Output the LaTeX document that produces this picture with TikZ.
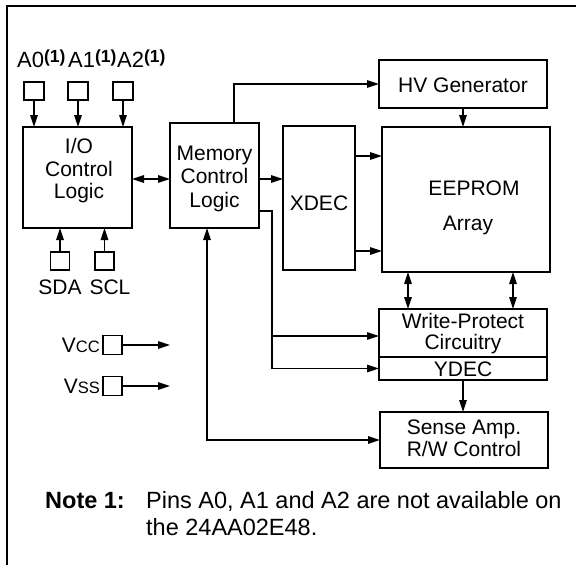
\documentclass[tikz,border=0pt]{standalone}
\usepackage{fontspec}
\setmainfont{Liberation Sans}
\usetikzlibrary{arrows.meta,calc}
\newcommand{\supn}{\raisebox{5pt}{\fontsize{17.5}{17.5}\selectfont\bfseries(1)}}
\newcommand{\smc}[1]{{\fontsize{16.5}{16.5}\selectfont #1}}
\begin{document}
\begin{tikzpicture}[x=1pt,y=-1pt,
  blk/.style={draw,line width=1.6pt,inner sep=0pt,outer sep=0pt},
  pin/.style={draw,line width=1.6pt,minimum width=19pt,minimum height=18pt,inner sep=0pt,outer sep=0pt},
  txt/.style={font=\fontsize{21}{22.5}\selectfont,align=center,inner sep=0pt},
  con/.style={line width=1.6pt},
  arr/.style={con,-{Triangle[length=12pt,width=7.5pt]}},
  darr/.style={con,{Triangle[length=12pt,width=7.5pt]}-{Triangle[length=12pt,width=7.5pt]}}]
\useasboundingbox (0,0) rectangle (576,565);
% frame
\draw[line width=2pt] (6.5,600) -- (6.5,5.5) -- (600,5.5);

% blocks
\node[blk,minimum width=109pt,minimum height=101pt] (io) at (77.5,177.5) {};
\node[txt] (iot) at (79,171) {I/O\\Control\\Logic};
\node[blk,minimum width=89pt,minimum height=105pt] (mem) at (214.5,175.5) {};
\node[txt,font=\fontsize{21}{23.5}\selectfont] (memt) at (214.5,178.5) {Memory\\Control\\Logic};
\node[blk,minimum width=72pt,minimum height=144pt] (xdec) at (319,198) {};
\node[txt] (xdect) at (319,203) {XDEC};
\node[blk,minimum width=168pt,minimum height=48pt] (hv) at (463,84) {};
\node[txt] (hvt) at (463,85) {HV Generator};
\node[blk,minimum width=168pt,minimum height=145pt] (ee) at (466,199.5) {};
\node[txt] (eet1) at (474,188) {EEPROM};
\node[txt] (eet2) at (468,225) {Array};
\node[blk,minimum width=168pt,minimum height=48pt] (wp) at (463,333) {};
\node[txt,font=\fontsize{21}{21}\selectfont] (wpt) at (463,333.5) {Write-Protect\\Circuitry};
\node[blk,minimum width=168pt,minimum height=23pt] (ydec) at (463,368.5) {};
\node[txt] (ydect) at (463,369) {YDEC};
\node[blk,minimum width=168pt,minimum height=56pt] (sa) at (464,440) {};
\node[txt,font=\fontsize{21}{22}\selectfont] (sat) at (464,438) {Sense Amp.\\R/W Control};

% pins
\node[pin,minimum width=20pt] (a0) at (34,91) {};
\node[pin,minimum width=20pt] (a1) at (78,91) {};
\node[pin,minimum width=20pt] (a2) at (123,91) {};
\node[txt,anchor=base west,font=\fontsize{22}{22}\selectfont] (a0l) at (17,67) {A0\supn};
\node[txt,anchor=base west,font=\fontsize{22}{22}\selectfont] (a1l) at (68,67) {A1\supn};
\node[txt,anchor=base west,font=\fontsize{22}{22}\selectfont] (a2l) at (117,67) {A2\supn};
\node[pin] (sda) at (60,261) {};
\node[pin] (scl) at (104.5,261) {};
\node[txt] (sdal) at (60,287) {SDA};
\node[txt] (scll) at (110,287) {SCL};
\node[pin,minimum height=19pt] (vcc) at (112.5,345) {};
\node[pin,minimum height=19pt] (vss) at (112.5,386) {};
\node[txt,anchor=east] (vccl) at (100,345) {V\smc{CC}};
\node[txt,anchor=east] (vssl) at (100,386) {V\smc{SS}};
\coordinate (vcce) at (170,345);
\coordinate (vsse) at (170,386);

% note
\node[txt,anchor=base west,font=\fontsize{23.5}{23.5}\selectfont\bfseries] (note) at (45,508.5) {Note 1:};
\node[txt,anchor=base west,font=\fontsize{23.5}{23.5}\selectfont] (n1) at (146,508.5) {Pins A0, A1 and A2 are not available on};
\node[txt,anchor=base west,font=\fontsize{23.5}{23.5}\selectfont] (n2) at (146,535.5) {the 24AA02E48.};

% connectors
\draw[arr] (a0.south) -- (a0.south |- io.north);
\draw[arr] (a1.south) -- (a1.south |- io.north);
\draw[arr] (a2.south) -- (a2.south |- io.north);
\draw[arr] (sda.north) -- (sda.north |- io.south);
\draw[arr] (scl.north) -- (scl.north |- io.south);
\draw[arr] (vcc.east) -- (vcce);
\draw[arr] (vss.east) -- (vsse);

\coordinate (m1) at ([yshift=-3.5pt]mem.east);
\draw[darr] (io.east |- m1) -- (m1 -| mem.west);
\draw[arr] (m1) -- (m1 -| xdec.west);
\draw[arr] ([xshift=19.5pt]mem.north) |- (hv.west);
\draw[arr] (hv.south) -- (hv.south |- ee.north);
\coordinate (x1) at ([yshift=42pt]xdec.east);
\coordinate (x2) at ([yshift=-53pt]xdec.east);
\draw[arr] (x1) -- (x1 -| ee.west);
\draw[arr] (x2) -- (x2 -| ee.west);
\coordinate (m2) at ([yshift=-35.5pt]mem.east);
\coordinate (bx) at ([xshift=13pt]m2);
\coordinate (wpin) at ([yshift=-3pt]wp.west);
\draw[arr] (m2) -- (bx) |- (ydec.west);
\draw[arr] (bx |- wpin) -- (wpin);
\draw[darr] ([xshift=-7.5pt]mem.south) |- (sa.west);
\coordinate (e1) at ([xshift=-58pt]ee.south);
\coordinate (e2) at ([xshift=47pt]ee.south);
\draw[darr] (e1) -- (e1 |- wp.north);
\draw[darr] (e2) -- (e2 |- wp.north);
\draw[arr] (ydec.south) -- (ydec.south |- sa.north);
\end{tikzpicture}
\end{document}
